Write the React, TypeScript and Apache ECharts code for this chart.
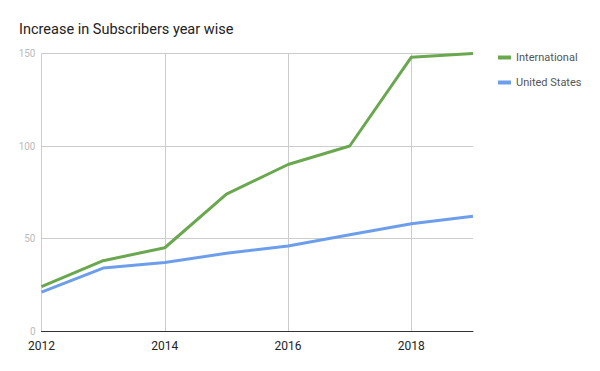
import React, { useEffect, useRef } from "react";
import * as echarts from "echarts";

const years = ["2012", "2013", "2014", "2015", "2016", "2017", "2018", "2019"];
const international = [24, 38, 45, 74, 90, 100, 148, 150];
const unitedStates = [21, 34, 37, 42, 46, 52, 58, 62];
const seriesNames = ["International", "United States"];
const colors = ["#6aa84f", "#6d9eeb"];

export default function App() {
  const ref = useRef<HTMLDivElement>(null);
  useEffect(() => {
    if (!ref.current) return;
    const chart = echarts.init(ref.current, null, { renderer: "svg" });
    const font = "Roboto, Arial, sans-serif";
    const evenTick = (index: number) => index % 2 === 0 && index < years.length - 1;
    chart.setOption({
      animation: false,
      textStyle: { fontFamily: font },
      title: {
        text: "Increase in Subscribers year wise",
        left: 14,
        top: 17,
        textStyle: { fontSize: 14.5, fontWeight: "normal", color: "#222", fontFamily: font },
      },
      legend: {
        orient: "vertical",
        left: 493,
        top: 47,
        itemWidth: 13,
        itemHeight: 4,
        itemGap: 14,
        icon: "rect",
        textStyle: { fontSize: 11, color: "#555", fontFamily: font },
        data: seriesNames,
      },
      grid: { left: 41.5, right: 127, top: 53.5, bottom: 40 },
      xAxis: {
        type: "category",
        data: years,
        boundaryGap: false,
        axisLine: { show: true, lineStyle: { color: "#333", width: 1 } },
        axisTick: { show: false },
        axisLabel: { fontSize: 12, color: "#222", margin: 9, fontFamily: font, interval: evenTick },
        splitLine: { show: true, interval: evenTick, lineStyle: { color: "#cccccc", width: 1 } },
      },
      yAxis: {
        type: "value",
        min: 0,
        max: 150,
        interval: 50,
        axisLine: { show: false },
        axisTick: { show: false },
        axisLabel: { fontSize: 10, color: "#bbbbbb", margin: 6, fontFamily: font },
        splitLine: { show: true, lineStyle: { color: "#cccccc", width: 1 } },
      },
      series: [
        {
          name: seriesNames[0],
          type: "line",
          data: international,
          showSymbol: false,
          symbol: "none",
          lineStyle: { width: 3, color: colors[0] },
          itemStyle: { color: colors[0] },
        },
        {
          name: seriesNames[1],
          type: "line",
          data: unitedStates,
          showSymbol: false,
          symbol: "none",
          lineStyle: { width: 3, color: colors[1] },
          itemStyle: { color: colors[1] },
        },
      ],
    });
    return () => chart.dispose();
  }, []);
  return <div ref={ref} style={{ width: 600, height: 371, position: "absolute", left: 0, top: 0 }} />;
}
